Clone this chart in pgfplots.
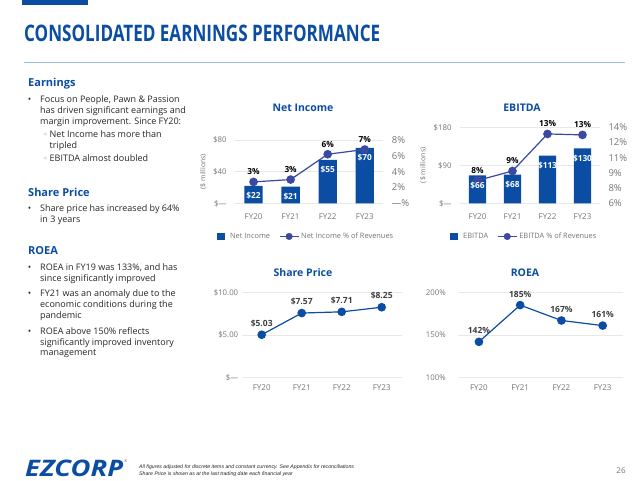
\documentclass[border=0pt]{standalone}
\usepackage{fontspec}
\setmainfont{Open Sans}
\newfontfamily\notefont{Liberation Sans}
\newfontfamily\symfont{DejaVu Sans}
\usepackage{graphicx}
\usepackage{pgfplots}
\pgfplotsset{compat=1.18}

\definecolor{ezblue}{RGB}{11,77,162}
\definecolor{indigo}{RGB}{59,73,163}
\definecolor{tickgrey}{RGB}{118,118,118}
\definecolor{bodytext}{RGB}{38,38,38}
\definecolor{labelgrey}{RGB}{64,64,64}
\definecolor{gridgrey}{RGB}{232,232,232}
\definecolor{rulblue}{RGB}{155,194,230}

\newcommand\bodyfont{\fontsize{9}{10.7}\selectfont}
\newcommand\headfont{\fontsize{11}{13}\selectfont\bfseries}
\newcommand\charttitle{\fontsize{10.5}{12}\selectfont\bfseries}
% one line of slide text, placed by its baseline (y measured from the top)
\newcommand\txt[3]{\node[anchor=base west, inner sep=0pt, text=bodytext, font=\bodyfont] at (#1,{481-#2}) {#3};}
\newcommand\bul[2]{\node[anchor=base, inner sep=0pt, text=bodytext, font=\bodyfont] at (29.5,{481-#1}) {•};\txt{40}{#1}{#2}}
\newcommand\subbul[2]{\node[anchor=base, inner sep=0pt, text=tickgrey, font=\fontsize{8}{9}\symfont] at (45.5,{481-#1}) {◦};\txt{49.5}{#1}{#2}}
\newcommand\head[2]{\node[anchor=base west, inner sep=0pt, text=ezblue, font=\headfont] at (28,{481-#1}) {#2};}

\pgfplotsset{
  slidechart/.style={
    scale only axis, clip=false,
    axis line style={draw=none},
    major tick style={draw=none},
    xmin=-0.5, xmax=3.5,
    xtick={0,1,2,3}, xticklabels={FY20,FY21,FY22,FY23},
    x tick label style={font=\fontsize{8}{9}\selectfont, text=tickgrey, yshift=-3pt},
    y tick label style={font=\fontsize{7.8}{9}\selectfont, text=tickgrey},
    /pgf/number format/assume math mode=true,
    ymajorgrids, grid style={draw=gridgrey, line width=0.9pt},
  },
  rightaxis/.style={
    slidechart, ymajorgrids=false, xtick=\empty, axis y line*=right,
    y tick label style={font=\fontsize{9.5}{10}\selectfont, xshift=5pt},
  },
  overlay axis/.style={
    slidechart, ymajorgrids=false, xtick=\empty, ytick=\empty,
  },
  barvalue/.style={
    nodes near coords={\$\pgfmathprintnumber{\pgfplotspointmeta}},
    every node near coord/.append style={font=\bfseries\fontsize{8.3}{9}\selectfont, text=white, yshift=-17pt},
  },
  pctvalue/.style={
    nodes near coords={\pgfmathprintnumber[fixed,precision=0]{\pgfplotspointmeta}\%},
    every node near coord/.append style={font=\bfseries\fontsize{8.3}{9}\selectfont, text=black, yshift=3pt},
  },
  slidelegend/.style={
    legend columns=2, legend cell align=left,
    legend style={draw=none, fill=none, font=\fontsize{7.4}{9}\selectfont, text=tickgrey,
      at={#1}, anchor=west, /tikz/every even column/.append style={column sep=7pt}},
  },
  millions/.style={
    ylabel={(\$ millions)},
    ylabel style={at={(axis description cs:#1,0.5)}, anchor=center, font=\fontsize{7}{8}\selectfont, text=tickgrey},
  },
  bar legend/.style={
    legend image code/.code={\fill[ezblue] (0pt,-3.7pt) rectangle (7.4pt,3.7pt);
      \path (11pt,0pt);},
  },
  ratio legend/.style={
    legend image code/.code={\draw[indigo, line width=1.2pt] (0pt,0pt) -- (19pt,0pt);
      \fill[indigo] (9.5pt,0pt) circle (3.3pt);},
  },
}

\begin{document}
\begin{tikzpicture}[x=1pt,y=1pt]
\fill[white] (0,0) rectangle (640,481);

% slide header
\fill[ezblue] (22,481) rectangle (88,476);
\node[anchor=base west, inner sep=0pt, text=ezblue] at (24,{481-42})
  {\resizebox{356pt}{16.5pt}{\bfseries CONSOLIDATED EARNINGS PERFORMANCE}};
\draw[rulblue, line width=0.8pt] (24,{481-62}) -- (625,{481-62});

% left column text
\head{86.7}{Earnings}
\bul{102.7}{Focus on People, Pawn \& Passion}
\txt{40}{113.4}{has driven significant earnings and}
\txt{40}{124.4}{margin improvement. Since FY20:}
\subbul{137.7}{Net Income has more than}
\txt{49.5}{148.7}{tripled}
\subbul{162}{EBITDA almost doubled}
\head{196.7}{Share Price}
\bul{212}{Share price has increased by 64\%}
\txt{40}{222.7}{in 3 years}
\head{255}{ROEA}
\bul{271}{ROEA in FY19 was 133\%, and has}
\txt{40}{281.7}{since significantly improved}
\bul{297}{FY21 was an anomaly due to the}
\txt{40}{307.7}{economic conditions during the}
\txt{40}{318.7}{pandemic}
\bul{334.4}{ROEA above 150\% reflects}
\txt{40}{345.4}{significantly improved inventory}
\txt{40}{356}{management}

% chart titles
\node[anchor=base, inner sep=0pt, text=ezblue, font=\charttitle] at (303,{481-112}) {Net Income};
\node[anchor=base, inner sep=0pt, text=ezblue, font=\charttitle] at (522,{481-112}) {EBITDA};
\node[anchor=base, inner sep=0pt, text=ezblue, font=\charttitle] at (303,{481-277}) {Share Price};
\node[anchor=base, inner sep=0pt, text=ezblue, font=\charttitle] at (525,{481-277}) {ROEA};

% Net Income: bars in $ millions, line as % of revenues
\begin{axis}[slidechart, at={(235pt,277.7pt)}, anchor=south west,
  width=148.3pt, height=63.3pt, ybar, bar width=18.3pt,
  ymin=0, ymax=80, ytick={0,40,80}, yticklabels={\$—,\$40,\$80},
  y tick label style={xshift=-5pt}, millions=-0.214,
  slidelegend={(axis description cs:-0.142,-0.524)}]
\addplot[fill=ezblue, draw=none, barvalue, bar legend]
  coordinates {(0,22) (1,21) (2,55) (3,70)};
\addlegendentry{Net Income}
\addlegendimage{ratio legend}
\addlegendentry{Net Income \% of Revenues}
\end{axis}
\begin{axis}[rightaxis, at={(235pt,277.7pt)}, anchor=south west,
  width=148.3pt, height=63.3pt,
  ymin=0, ymax=8, ytick={0,2,4,6,8}, yticklabels={—\%,2\%,4\%,6\%,8\%}]
\addplot[indigo, line width=1.2pt, mark=*, mark size=3.7pt, pctvalue]
  coordinates {(0,2.7) (1,3.0) (2,6.2) (3,6.8)};
\end{axis}

% EBITDA: bars in $ millions, line as % of revenues
\begin{axis}[slidechart, at={(460pt,277.7pt)}, anchor=south west,
  width=140pt, height=76pt, ybar, bar width=17.3pt,
  ymin=0, ymax=180, ytick={0,90,180}, yticklabels={\$—,\$90,\$180},
  y tick label style={xshift=-5pt}, millions=-0.262,
  slidelegend={(axis description cs:-0.093,-0.437)}]
\addplot[fill=ezblue, draw=none, bar legend]
  coordinates {(0,66) (1,68) (2,113) (3,130)};
\addlegendentry{EBITDA}
\addlegendimage{ratio legend}
\addlegendentry{EBITDA \% of Revenues}
\end{axis}
\begin{axis}[rightaxis, at={(460pt,277.7pt)}, anchor=south west,
  width=140pt, height=76pt,
  ymin=6, ymax=14, ytick={6,7.6,9.2,10.8,12.4,14},
  yticklabels={6\%,8\%,9\%,11\%,12\%,14\%}]
\addplot[indigo, line width=1.2pt, mark=*, mark size=3.7pt, pctvalue]
  coordinates {(0,8.4) (1,9.4) (2,13.3) (3,13.2)};
\end{axis}
% EBITDA bar values, set on top of the ratio line
\begin{axis}[overlay axis, at={(460pt,277.7pt)}, anchor=south west,
  width=140pt, height=76pt, ybar, bar width=17.3pt, ymin=0, ymax=180]
\addplot[draw=none, fill=none, barvalue]
  coordinates {(0,66) (1,68) (2,113) (3,130)};
\end{axis}

% Share price at fiscal year end
\begin{axis}[slidechart, at={(241.7pt,103.3pt)}, anchor=south west,
  width=160pt, height=85.4pt,
  ymin=0, ymax=10, ytick={0,5,10}, yticklabels={\$—,\$5.00,\$10.00}]
\addplot[ezblue, line width=1.2pt, mark=*, mark size=3.7pt,
  nodes near coords={\$\pgfmathprintnumber[fixed,fixed zerofill,precision=2]{\pgfplotspointmeta}},
  every node near coord/.append style={font=\bfseries\fontsize{8.5}{9}\selectfont, text=labelgrey, yshift=4pt}]
  coordinates {(0,5.03) (1,7.57) (2,7.71) (3,8.25)};
\end{axis}

% ROEA
\begin{axis}[slidechart, at={(458.3pt,103.3pt)}, anchor=south west,
  width=165pt, height=85.4pt,
  ymin=100, ymax=200, ytick={100,150,200}, yticklabels={100\%,150\%,200\%},
  y tick label style={xshift=-9pt}]
\addplot[ezblue, line width=1.2pt, mark=*, mark size=3.7pt,
  nodes near coords={\pgfmathprintnumber{\pgfplotspointmeta}\%},
  every node near coord/.append style={font=\bfseries\fontsize{8.5}{9}\selectfont, text=labelgrey, yshift=4pt}]
  coordinates {(0,142) (1,185) (2,167) (3,161)};
\end{axis}

% footer
\node[anchor=base west, inner sep=0pt, text=ezblue] at (25,{481-476.5})
  {\resizebox{98pt}{16.5pt}{\bfseries\itshape EZCORP}};
\node[anchor=base west, inner sep=0pt, text=tickgrey, font=\fontsize{4}{4}\selectfont] at (124,{481-463}) {®};
\node[anchor=base west, inner sep=0pt, font=\notefont\itshape\fontsize{5.2}{6}\selectfont, text=bodytext] at (139,{481-468.5})
  {All figures adjusted for discrete items and constant currency. See Appendix for reconciliations};
\node[anchor=base west, inner sep=0pt, font=\notefont\itshape\fontsize{5.2}{6}\selectfont, text=bodytext] at (139,{481-476})
  {Share Price is shown as at the last trading date each financial year};
\node[anchor=base, inner sep=0pt, font=\fontsize{8}{9}\selectfont, text=tickgrey] at (621,{481-474}) {26};

\pgfresetboundingbox
\path[use as bounding box] (0,0) rectangle (640,481);
\end{tikzpicture}
\end{document}
